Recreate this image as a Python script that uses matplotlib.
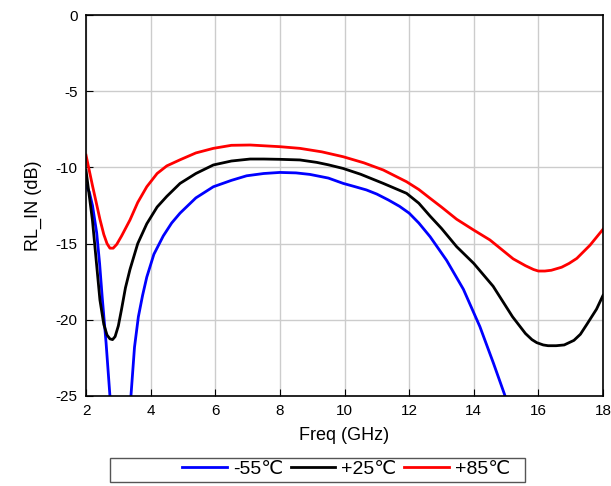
import matplotlib.pyplot as plt
from matplotlib.patches import Rectangle

plt.rcParams['font.family'] = ['Liberation Sans', 'DejaVu Sans']
plt.rcParams['axes.unicode_minus'] = False

# -55 C
f_cold = [2.0, 2.1, 2.2, 2.33, 2.42, 2.5, 2.62, 2.74, 2.9, 3.05, 3.2, 3.39, 3.5, 3.62, 3.75,
          3.88, 4.1, 4.39, 4.65, 4.91, 5.4, 5.94, 6.5, 6.97, 7.5, 8.0, 8.5, 8.93, 9.5,
          9.96, 10.3, 10.68, 11.0, 11.36, 11.7, 12.0, 12.3, 12.65, 13.16, 13.68, 14.19,
          14.61, 14.97, 15.2]
rl_cold = [-11.2, -11.6, -12.5, -14.3, -16.3, -18.5, -21.5, -25.0, -30.0, -32.0, -30.0,
           -25.0, -21.8, -19.8, -18.4, -17.2, -15.7, -14.5, -13.65, -13.0, -12.0, -11.27,
           -10.85, -10.55, -10.4, -10.33, -10.36, -10.46, -10.7, -11.05, -11.25, -11.48,
           -11.75, -12.14, -12.55, -13.0, -13.65, -14.55, -16.1, -18.0, -20.45, -22.85,
           -25.0, -26.5]

# +25 C
f_room = [2.0, 2.2, 2.43, 2.55, 2.65, 2.74, 2.82, 2.9, 3.0, 3.1, 3.22, 3.36, 3.6, 3.88, 4.2,
          4.5, 4.91, 5.4, 5.94, 6.5, 7.08, 7.5, 8.0, 8.62, 9.14, 9.5, 9.96, 10.5, 11.2,
          11.92, 12.3, 12.65, 13.0, 13.47, 14.0, 14.6, 15.2, 15.6, 15.8, 15.95, 16.15,
          16.3, 16.55, 16.8, 17.1, 17.3, 17.5, 17.8, 18.0]
rl_room = [-10.2, -13.5, -18.7, -20.3, -21.0, -21.25, -21.3, -21.1, -20.4, -19.3, -17.9,
           -16.7, -15.0, -13.7, -12.6, -11.9, -11.05, -10.4, -9.84, -9.58, -9.45, -9.45,
           -9.47, -9.51, -9.67, -9.83, -10.07, -10.45, -11.05, -11.7, -12.35, -13.2, -14.0,
           -15.2, -16.3, -17.8, -19.8, -20.9, -21.3, -21.5, -21.65, -21.7, -21.7, -21.65,
           -21.35, -20.95, -20.3, -19.3, -18.4]

# +85 C
f_hot = [2.0, 2.2, 2.43, 2.55, 2.65, 2.74, 2.84, 2.95, 3.1, 3.36, 3.6, 3.88, 4.2, 4.5,
         4.91, 5.4, 5.94, 6.5, 7.08, 8.0, 8.62, 9.3, 9.96, 10.6, 11.2, 11.92, 12.3, 12.65,
         13.0, 13.47, 13.99, 14.5, 15.22, 15.6, 15.85, 16.0, 16.2, 16.4, 16.72, 16.95,
         17.19, 17.6, 18.0]
rl_hot = [-9.2, -11.2, -13.4, -14.4, -15.0, -15.3, -15.3, -15.05, -14.5, -13.45, -12.3,
          -11.27, -10.4, -9.9, -9.5, -9.05, -8.75, -8.55, -8.53, -8.64, -8.75, -8.98, -9.3,
          -9.7, -10.17, -10.94, -11.45, -12.03, -12.6, -13.4, -14.1, -14.76, -16.0, -16.45,
          -16.7, -16.8, -16.8, -16.75, -16.55, -16.3, -15.97, -15.1, -14.06]

labels = ['-55\u2103', '+25\u2103', '+85\u2103']
colors = ['#0000ff', '#000000', '#ff0000']

fig = plt.figure(figsize=(6.11, 4.86), dpi=100)
ax = fig.add_axes([0.1408, 0.1852, 0.8461, 0.7839])

ax.plot(f_cold, rl_cold, color=colors[0], lw=2.0, label=labels[0])
ax.plot(f_room, rl_room, color=colors[1], lw=2.0, label=labels[1])
ax.plot(f_hot, rl_hot, color=colors[2], lw=2.0, label=labels[2])

ax.set_xlim(2, 18)
ax.set_ylim(-25, 0)
ax.set_xticks(range(2, 19, 2))
ax.set_yticks(range(-25, 1, 5))
ax.grid(True, color='#cccccc', lw=1.0)
ax.set_axisbelow(True)
ax.tick_params(direction='in', length=5, labelsize=11, colors='black', pad=6)
for s in ax.spines.values():
    s.set_linewidth(1.2)

ax.set_xlabel('Freq (GHz)', fontsize=13, labelpad=6)
ax.set_ylabel('RL_IN (dB)', fontsize=13, labelpad=10)

# legend box
fig.patches.append(Rectangle((110 / 611, 1 - 482 / 486), 415 / 611, 24 / 486,
                             transform=fig.transFigure, fill=False,
                             edgecolor='#555555', lw=1.0))
fig.legend(loc='center', bbox_to_anchor=(346 / 611, 1 - 469 / 486), ncol=3,
           frameon=False, fontsize=14, handlelength=2.3, handletextpad=0.3,
           columnspacing=0.4, borderpad=0)

plt.savefig('out.png', dpi=100)
plt.close()
